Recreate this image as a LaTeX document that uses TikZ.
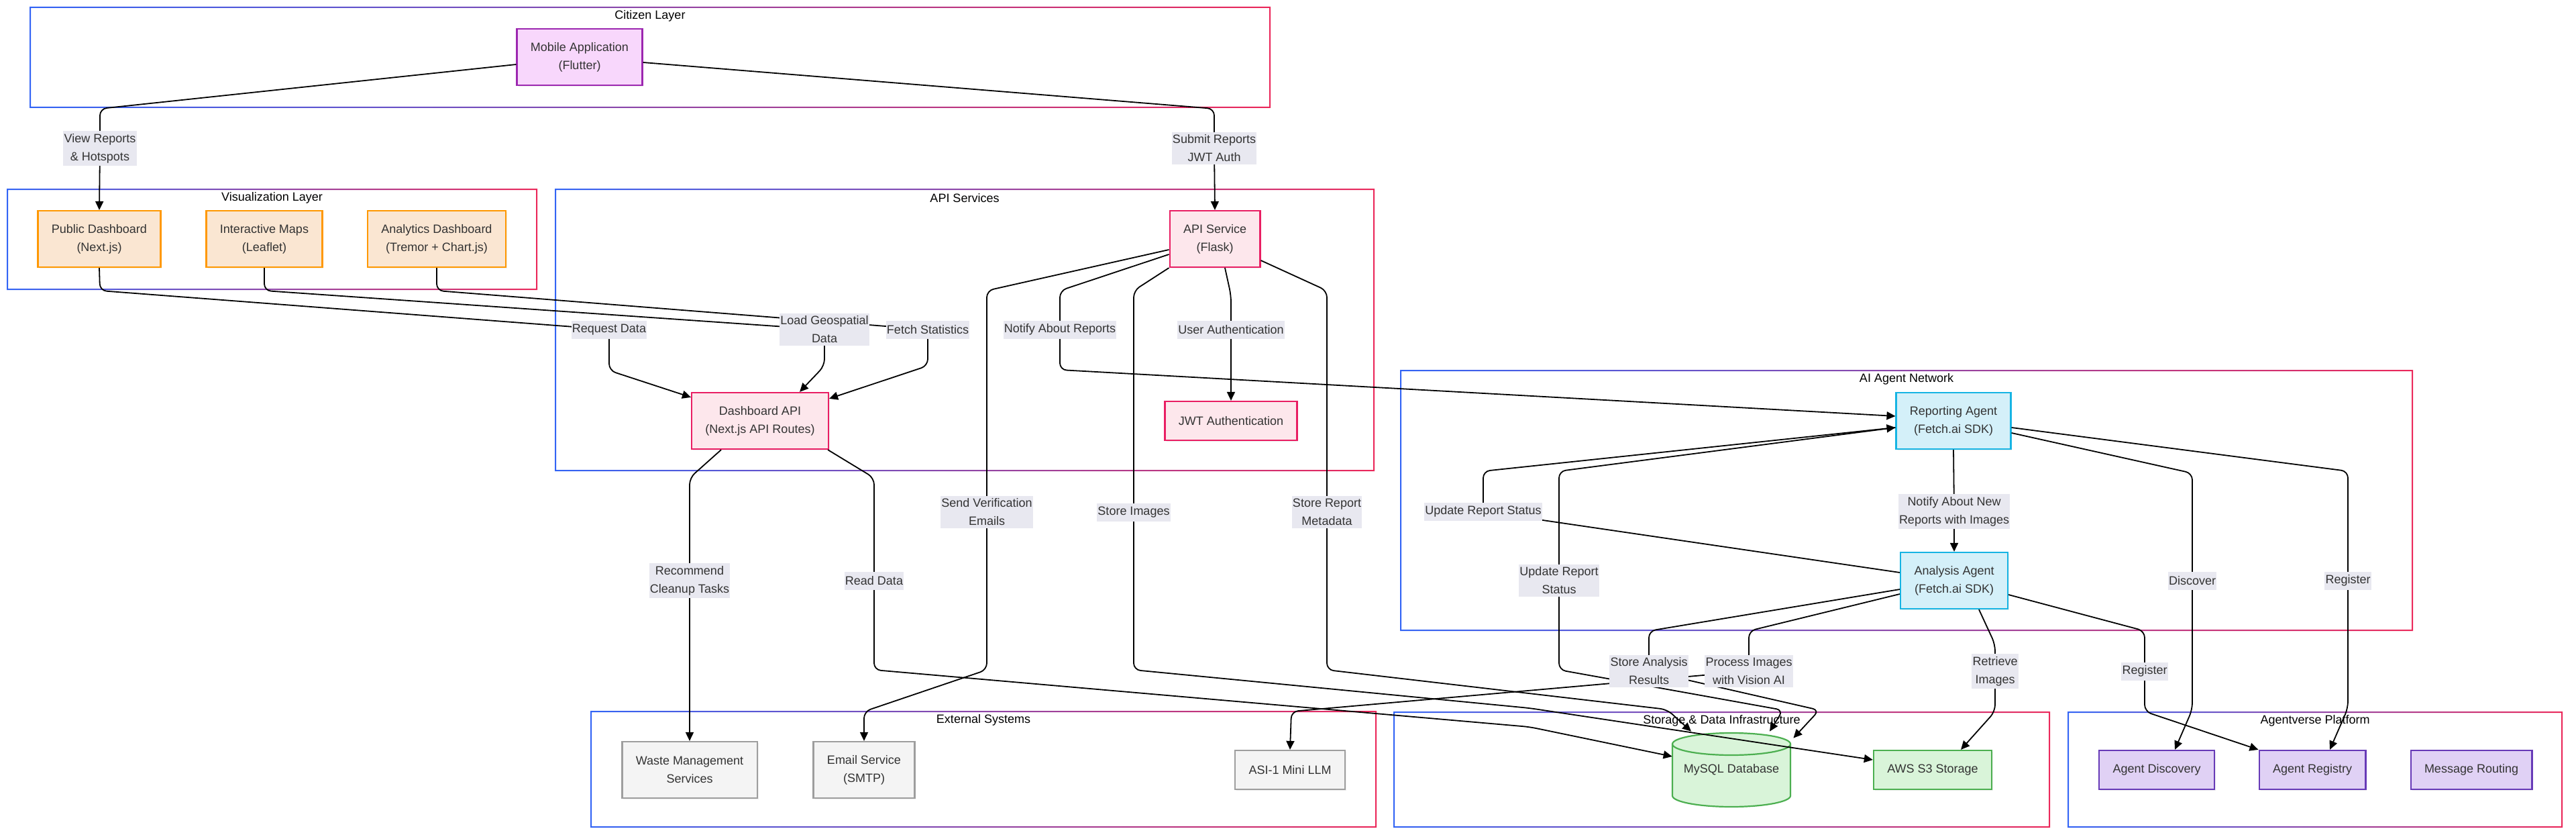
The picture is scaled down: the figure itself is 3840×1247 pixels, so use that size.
\documentclass[tikz,border=0pt]{standalone}
\usepackage{fontspec}
\setmainfont{Liberation Sans}
\usetikzlibrary{arrows.meta,calc,shadows}

\definecolor{frameBlue}{HTML}{3264F5}
\definecolor{frameRed}{HTML}{EB285A}
\definecolor{txtGray}{HTML}{333333}
\definecolor{lblFill}{HTML}{E8E8F0}
\definecolor{mobFill}{HTML}{F8D7FC}
\definecolor{mobLine}{HTML}{9C27B0}
\definecolor{visFill}{HTML}{FAE6D2}
\definecolor{visLine}{HTML}{FF9800}
\definecolor{apiFill}{HTML}{FDE7EC}
\definecolor{apiLine}{HTML}{E91E63}
\definecolor{aiFill}{HTML}{D4F0F9}
\definecolor{aiLine}{HTML}{16B4E3}
\definecolor{extFill}{HTML}{F4F4F4}
\definecolor{extLine}{HTML}{9E9E9E}
\definecolor{dbFill}{HTML}{D9F4D9}
\definecolor{dbLine}{HTML}{4CAF50}
\definecolor{avFill}{HTML}{E0D1F5}
\definecolor{avLine}{HTML}{673AB7}

\tikzset{
    box/.style={draw, line width=1.1pt, inner xsep=10.2pt, align=center,
        minimum height=42pt, text=txtGray, font=\fontsize{9}{13.5}\selectfont,
        drop shadow={shadow xshift=1pt, shadow yshift=-1pt, opacity=0.12}},
    oneline/.style={minimum height=29pt},
    citizenbox/.style={box, fill=mobFill, draw=mobLine},
    visbox/.style={box, fill=visFill, draw=visLine},
    apibox/.style={box, fill=apiFill, draw=apiLine},
    agentbox/.style={box, fill=aiFill, draw=aiLine},
    extbox/.style={box, fill=extFill, draw=extLine},
    storebox/.style={box, fill=dbFill, draw=dbLine},
    avbox/.style={box, fill=avFill, draw=avLine},
    lbl/.style={fill=lblFill, inner xsep=0.6pt, inner ysep=2pt, minimum height=13.5pt,
        align=center, text=txtGray, font=\fontsize{9}{13.5}\selectfont},
    layertitle/.style={text=black, inner sep=0pt, font=\fontsize{9}{13.5}\selectfont},
    flow/.style={line width=0.9pt, rounded corners=5pt, -{Triangle[length=6.5pt,width=6pt]}}
}

% x1, y1, x2, y2, name, title
\newcommand{\layerframe}[6]{%
    \shade[even odd rule, left color=frameBlue, right color=frameRed]
        (#1,#2) rectangle (#3,#4) (#1+2,#2+2) rectangle (#3-2,#4-2);
    \node[layertitle] (#5) at ({(#1+#3)/2},#2+14) {#6};}

\begin{document}
\begin{tikzpicture}[x=0.5pt, y=-0.5pt]
        \useasboundingbox[fill=white] (0,0) rectangle (3840,1247);

        \layerframe{44}{10}{1894}{161}{citizen}{Citizen Layer}
        \layerframe{10}{281}{801}{432}{vislayer}{Visualization Layer}
        \layerframe{827}{281}{2049}{702}{apilayer}{API Services}
        \layerframe{2087}{551}{3597}{940}{agentnet}{AI Agent Network}
        \layerframe{880}{1059}{2052}{1233}{external}{External Systems}
        \layerframe{2077}{1060}{3056}{1233}{storage}{Storage \& Data Infrastructure}
        \layerframe{3082}{1060}{3820}{1233}{agentverse}{Agentverse Platform}

        \node[citizenbox] (mobile) at (864,85) {Mobile Application\\(Flutter)};

        \node[visbox] (pubdash) at (148,356) {Public Dashboard\\(Next.js)};
        \node[visbox] (maps) at (394,356) {Interactive Maps\\(Leaflet)};
        \node[visbox] (analytics) at (651,356) {Analytics Dashboard\\(Tremor + Chart.js)};

        \node[apibox] (apisvc) at (1811,356) {API Service\\(Flask)};
        \node[apibox] (dashapi) at (1133,627) {Dashboard API\\(Next.js API Routes)};
        \node[apibox, oneline] (jwt) at (1835,627) {JWT Authentication};

        \node[agentbox] (repagent) at (2912,627) {Reporting Agent\\(Fetch.ai SDK)};
        \node[agentbox] (anagent) at (2913,865) {Analysis Agent\\(Fetch.ai SDK)};

        \node[extbox] (waste) at (1028,1147) {Waste Management\\Services};
        \node[extbox] (email) at (1288,1147) {Email Service\\(SMTP)};
        \node[extbox, oneline] (asi) at (1923,1147) {ASI-1 Mini LLM};

        \filldraw[fill=dbFill, draw=dbLine, line width=1.1pt]
            (2493,1108.5) -- (2493,1185.5)
            .. controls (2493,1194.6) and (2532.4,1202) .. (2581,1202)
            .. controls (2629.6,1202) and (2669,1194.6) .. (2669,1185.5)
            -- (2669,1108.5)
            .. controls (2669,1099.4) and (2629.6,1092) .. (2581,1092)
            .. controls (2532.4,1092) and (2493,1099.4) .. (2493,1108.5) -- cycle;
        \draw[draw=dbLine, line width=1.1pt] (2493,1108.5)
            .. controls (2493,1117.6) and (2532.4,1125) .. (2581,1125)
            .. controls (2629.6,1125) and (2669,1117.6) .. (2669,1108.5);
        \node[minimum width=88pt, minimum height=55pt, inner sep=0pt, text=txtGray,
            font=\fontsize{9}{13.5}\selectfont] (mysql) at (2581,1147) {\raisebox{-4.5pt}{MySQL Database}};
        \node[storebox, oneline] (s3) at (2881,1147) {AWS S3 Storage};

        \node[avbox, oneline] (discovery) at (3215,1147) {Agent Discovery};
        \node[avbox, oneline] (registry) at (3447,1147) {Agent Registry};
        \node[avbox, oneline] (routing) at (3684,1147) {Message Routing};

        \coordinate (lView) at (149,221);
        \coordinate (lSubmit) at (1810,221);
        \coordinate (lReq) at (908,491);
        \coordinate (lGeo) at (1229,491);
        \coordinate (lFetch) at (1383,491);
        \coordinate (lNotify) at (1580,491);
        \coordinate (lUser) at (1835,491);
        \coordinate (lEmail) at (1471,763);
        \coordinate (lImages) at (1690,763);
        \coordinate (lMeta) at (1978,763);
        \coordinate (lRecommend) at (1028,865);
        \coordinate (lRead) at (1303,865);
        \coordinate (lNew) at (2913,762);
        \coordinate (lUpd1) at (2211,762);
        \coordinate (lUpd2) at (2324,865);
        \coordinate (lDiscover) at (3268,865);
        \coordinate (lReg1) at (3500,865);
        \coordinate (lAnalysis) at (2458,1000);
        \coordinate (lVision) at (2607,1000);
        \coordinate (lRetrieve) at (2974,1000);
        \coordinate (lReg2) at (3197,1000);

        \draw[flow] ($(mobile.west)+(0,11)$) -- (149,162) -- (lView) -- (pubdash.north);
        \draw[flow] ($(mobile.east)+(0,8)$) -- (1810,162) -- (lSubmit) -- (apisvc.north);

        \draw[flow] (pubdash.south) -- (149,433) -- (lReq) -- (908,552) -- ($(dashapi.north west)+(0,8)$);
        \draw[flow] (maps.south) -- (394,433) -- (lGeo) -- (1229,545) -- ($(dashapi.north)+(59,0)$);
        \draw[flow] (analytics.south) -- (651,433) -- (lFetch) -- (1383,545) -- ($(dashapi.north east)+(0,10)$);

        \draw[flow] ($(apisvc.west)+(0,16)$) -- (1471,433) -- (lEmail) -- (1471,998) -- (1288,1060) -- (email.north);
        \draw[flow] ($(apisvc.west)+(0,23)$) -- (1580,433) -- (lNotify) -- (1580,551) -- ($(repagent.west)+(0,-7)$);
        \draw[flow] (apisvc.south west) -- (1690,433) -- (lImages) -- (1690,998) -- (2280,1055) -- ($(s3.west)+(0,-15)$);
        \draw[flow] ($(apisvc.south)+(15,0)$) -- (1835,440) -- (lUser) -- (jwt.north);
        \draw[flow] ($(apisvc.east)+(0,32)$) -- (1978,433) -- (lMeta) -- (1978,998) -- (2485,1057) -- ($(mysql.north)+(-60,-2)$);

        \draw[flow] ($(dashapi.south)+(-58,0)$) -- (1028,712) -- (lRecommend) -- (waste.north);
        \draw[flow] ($(dashapi.south east)+(-2,0)$) -- (1303,712) -- (lRead) -- (1303,998) -- (2280,1083) -- ($(mysql.west)+(0,-20)$);

        \draw[flow] (repagent.south) -- (lNew) -- (anagent.north);
        \draw[flow] ($(anagent.west)+(0,-12)$) -- (lUpd1) -- (2211,702) -- ($(repagent.west)+(0,10)$);
        \draw[flow] ($(repagent.west)+(0,10)$) -- (2324,702) -- (lUpd2) -- (2324,998) -- (2658,1058) -- ($(mysql.north)+(57,-2)$);
        \draw[flow] ($(anagent.west)+(0,13)$) -- (2458,940) -- (lAnalysis) -- (2712,1058) -- ($(mysql.north east)+(4,8)$);
        \draw[flow] ($(anagent.west)+(0,20)$) -- (2607,940) -- (lVision) -- (1925,1060) -- (asi.north);
        \draw[flow] ($(anagent.south)+(37,0)$) -- (2974,960) -- (lRetrieve) -- (2974,1060) -- ($(s3.north)+(42,0)$);
        \draw[flow] ($(anagent.east)+(0,21)$) -- (3197,940) -- (lReg2) -- (3197,1060) -- (registry.north west);
        \draw[flow] ($(repagent.east)+(0,18)$) -- (3268,705) -- (lDiscover) -- (3268,1057) -- ($(discovery.north)+(27,0)$);
        \draw[flow] ($(repagent.east)+(0,10)$) -- (3500,702) -- (lReg1) -- (3500,1055) -- ($(registry.north)+(26,0)$);

        \node[lbl] (tView) at (lView) {View Reports\\\& Hotspots};
        \node[lbl] (tSubmit) at (lSubmit) {Submit Reports\\JWT Auth};
        \node[lbl] (tReq) at (lReq) {Request Data};
        \node[lbl] (tGeo) at (lGeo) {Load Geospatial\\Data};
        \node[lbl] (tFetch) at (lFetch) {Fetch Statistics};
        \node[lbl] (tNotify) at (lNotify) {Notify About Reports};
        \node[lbl] (tUser) at (lUser) {User Authentication};
        \node[lbl] (tEmail) at (lEmail) {Send Verification\\Emails};
        \node[lbl] (tImages) at (lImages) {Store Images};
        \node[lbl] (tMeta) at (lMeta) {Store Report\\Metadata};
        \node[lbl] (tRecommend) at (lRecommend) {Recommend\\Cleanup Tasks};
        \node[lbl] (tRead) at (lRead) {Read Data};
        \node[lbl] (tNew) at (lNew) {Notify About New\\Reports with Images};
        \node[lbl] (tUpd1) at (lUpd1) {Update Report Status};
        \node[lbl] (tUpd2) at (lUpd2) {Update Report\\Status};
        \node[lbl] (tDiscover) at (lDiscover) {Discover};
        \node[lbl] (tReg1) at (lReg1) {Register};
        \node[lbl] (tAnalysis) at (lAnalysis) {Store Analysis\\Results};
        \node[lbl] (tVision) at (lVision) {Process Images\\with Vision AI};
        \node[lbl] (tRetrieve) at (lRetrieve) {Retrieve\\Images};
        \node[lbl] (tReg2) at (lReg2) {Register};
\end{tikzpicture}
\end{document}
